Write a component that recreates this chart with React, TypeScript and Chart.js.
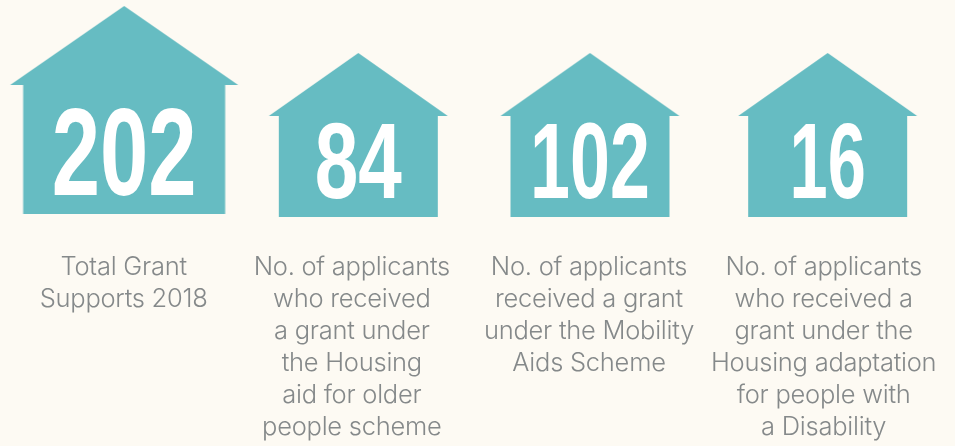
import React, { useEffect, useRef } from "react";
import { Chart, registerables } from "chart.js";

Chart.register(...registerables);

const categories = ["Total", "Housing aid", "Mobility aids", "Housing adaptation"];
const grantCounts = [202, 84, 102, 16];
const captions = [
  ["Total Grant", "Supports 2018"],
  ["No. of applicants", "who received", "a grant under", "the Housing", "aid for older", "people scheme"],
  ["No. of applicants", "received a grant", "under the Mobility", "Aids Scheme"],
  ["No. of applicants", "who received a", "grant under the", "Housing adaptation", "for people with", "a Disability"],
];

const BG = "#FDFAF3";
const TEAL = "#66BCC2";
const GREY = "#85898A";

// [half roof width, half body width, roof height, wall height, x nudge, y nudge]
const houseShapes = [
  [114, 101, 79, 129, 0.5, -3],
  [89.5, 79.5, 63, 101, 0, 0],
  [89.5, 79.5, 63, 101, -3, 0],
  [89.5, 79.5, 63, 101, 0, 0],
];
// [font px, horizontal scale, baseline offset under base of house]
const numberStyles = [
  [124, 0.7, 19],
  [108, 0.725, 19],
  [108, 0.665, 19],
  [108, 0.635, 19],
];
const captionNudges = [0, -6.5, -4, -4];

function houseSprite(shape: number[]) {
  const [roofHalf, bodyHalf, roofH, wallH, dx, dy] = shape;
  const pad = Math.ceil(Math.abs(dx)) + 1;
  const w = (roofHalf + pad) * 2;
  const h = (roofH + wallH + Math.abs(dy) + 1) * 2;
  const c = document.createElement("canvas");
  c.width = Math.ceil(w);
  c.height = Math.ceil(h);
  const g = c.getContext("2d")!;
  const cx = c.width / 2 + dx;
  const base = c.height / 2 + dy;
  const eave = base - wallH;
  g.fillStyle = TEAL;
  g.beginPath();
  g.moveTo(cx, eave - roofH);
  g.lineTo(cx + roofHalf, eave);
  g.lineTo(cx + bodyHalf, eave);
  g.lineTo(cx + bodyHalf, base);
  g.lineTo(cx - bodyHalf, base);
  g.lineTo(cx - bodyHalf, eave);
  g.lineTo(cx - roofHalf, eave);
  g.closePath();
  g.fill();
  return c;
}

const textPlugin = {
  id: "houseText",
  afterDatasetsDraw(chart: any) {
    const { ctx } = chart;
    const meta = chart.getDatasetMeta(0);
    meta.data.forEach((pt: any, i: number) => {
      const [px, sx, off] = numberStyles[i];
      const [, , , , dx, dy] = houseShapes[i];
      ctx.save();
      ctx.fillStyle = "#FFFFFF";
      ctx.font = `bold ${px}px "Liberation Sans Narrow", "Liberation Sans", sans-serif`;
      ctx.textAlign = "center";
      ctx.textBaseline = "alphabetic";
      ctx.translate(pt.x + dx, pt.y + dy - off);
      ctx.scale(sx, 1);
      ctx.fillText(String(grantCounts[i]), 0, 0);
      ctx.restore();

      ctx.save();
      ctx.fillStyle = GREY;
      ctx.font = `300 25.5px Inter, Roboto, "Liberation Sans", sans-serif`;
      ctx.letterSpacing = "-0.25px";
      ctx.textAlign = "center";
      ctx.textBaseline = "alphabetic";
      captions[i].forEach((line, k) => {
        ctx.fillText(line, pt.x + captionNudges[i], pt.y + 58 + k * 32);
      });
      ctx.restore();
    });
  },
};

export default function App() {
  const ref = useRef<HTMLCanvasElement>(null);
  useEffect(() => {
    document.body.style.margin = "0";
    document.body.style.background = BG;
    const chart = new Chart(ref.current!, {
      type: "line",
      data: {
        labels: categories,
        datasets: [
          {
            label: "Grants 2018",
            data: grantCounts.map((v, i) => ({ x: categories[i], y: 0, value: v })),
            showLine: false,
            clip: false,
            pointStyle: houseShapes.map(houseSprite),
            pointRadius: 1,
            pointBorderWidth: 0,
            pointBackgroundColor: TEAL,
          } as any,
        ],
      },
      options: {
        responsive: false,
        animation: false,
        events: [],
        layout: { padding: { left: 6.3, right: 10, top: 0, bottom: 229 } },
        scales: {
          x: { type: "category", display: false, offset: true },
          y: { type: "linear", display: false, min: 0, max: 1 },
        },
        plugins: { legend: { display: false }, tooltip: { enabled: false } },
      },
      plugins: [textPlugin],
    });
    return () => chart.destroy();
  }, []);
  return (
    <div style={{ width: 955, height: 446, background: BG, overflow: "hidden" }}>
      <canvas ref={ref} width={955} height={446} style={{ display: "block" }} />
    </div>
  );
}
